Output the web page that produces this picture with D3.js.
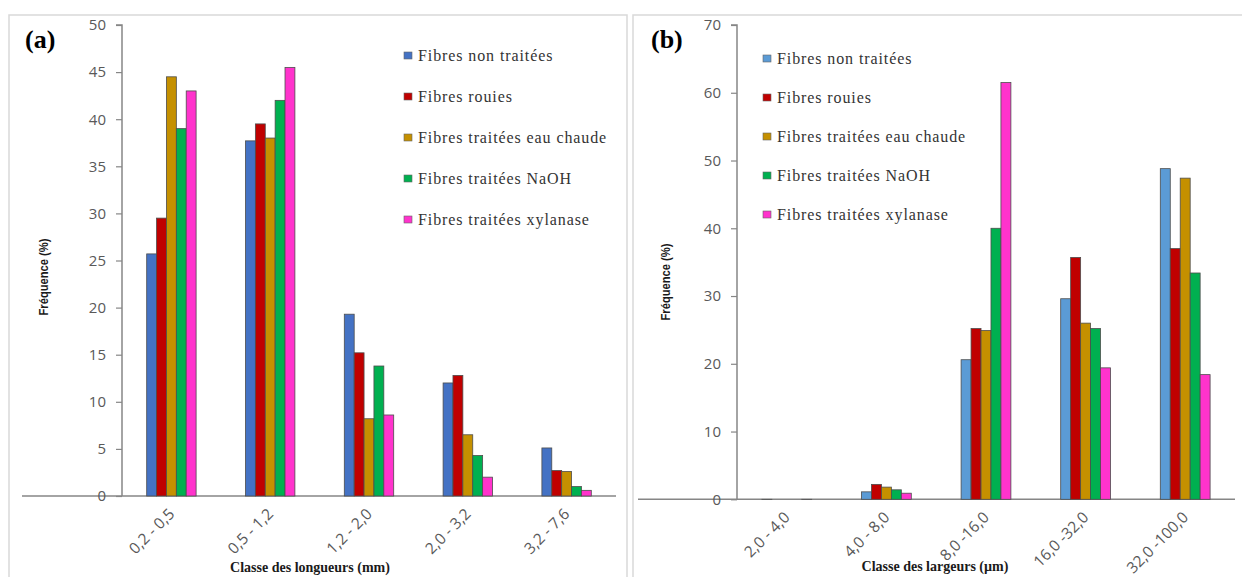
<!DOCTYPE html>
<html><head><meta charset="utf-8">
<script src="https://cdn.jsdelivr.net/npm/d3@7/dist/d3.min.js"></script>
<style>
html,body{margin:0;padding:0;background:#fff;}
svg{display:block;}
</style></head>
<body>
<svg id="chart" width="1242" height="577"></svg>
<script>
// ---------- DATA ----------
const seriesNames = ["Fibres non traitées","Fibres rouies","Fibres traitées eau chaude","Fibres traitées NaOH","Fibres traitées xylanase"];
const colorsA = ["#4472C4","#C00000","#C59000","#00B050","#FF33CC"];
const colorsB = ["#5B9BD5","#C00000","#C59000","#00B050","#FF33CC"];

const lengthClasses = ["0,2 - 0,5","0,5 - 1,2","1,2 - 2,0","2,0 - 3,2","3,2 - 7,6"];
const lenNonTraitees = [25.7, 37.7, 19.3, 12.0, 5.1];
const lenRouies      = [29.5, 39.5, 15.2, 12.8, 2.7];
const lenEauChaude   = [44.5, 38.0, 8.2, 6.5, 2.6];
const lenNaOH        = [39.0, 42.0, 13.8, 4.3, 1.0];
const lenXylanase    = [43.0, 45.5, 8.6, 2.0, 0.6];
const lenTicks = [0,5,10,15,20,25,30,35,40,45,50];

const widthClasses = ["2,0 - 4,0","4,0 - 8,0","8,0 -16,0","16,0 -32,0","32,0 -100,0"];
const widNonTraitees = [0, 1.1, 20.6, 29.6, 48.8];
const widRouies      = [null, 2.2, 25.2, 35.7, 37.0];
const widEauChaude   = [null, 1.8, 24.9, 26.0, 47.4];
const widNaOH        = [null, 1.4, 40.0, 25.2, 33.4];
const widXylanase    = [0, 0.9, 61.5, 19.4, 18.4];
const widTicks = [0,10,20,30,40,50,60,70];

const svg = d3.select("#chart");

// panel frames
svg.append("rect").attr("x",9).attr("y",15).attr("width",618).attr("height",600)
  .attr("fill","none").attr("stroke","#d9d9d9").attr("stroke-width",1.5);
svg.append("rect").attr("x",633).attr("y",15).attr("width",620).attr("height",600)
  .attr("fill","none").attr("stroke","#d9d9d9").attr("stroke-width",1.5);

function drawPanel(o){
  const g = svg.append("g");
  const x = d3.scaleBand().domain(o.categories).range([o.x0,o.x1]).paddingInner(0.5).paddingOuter(0.25);
  const y = d3.scaleLinear().domain([0,o.ymax]).range([o.y0,o.y1]);
  const xs = d3.scaleBand().domain(d3.range(seriesNames.length)).range([0,x.bandwidth()]);

  // x axis line
  g.append("line").attr("x1",o.xAxisStart).attr("x2",o.x1).attr("y1",y(0)).attr("y2",y(0))
    .attr("stroke","#868686").attr("stroke-width",1.5);

  // bars
  o.series.forEach((vals,si)=>{
    g.append("g").selectAll("rect").data(vals.map((v,i)=>({v,c:o.categories[i]})).filter(d=>d.v!==null))
      .join("rect")
      .attr("x",d=>x(d.c)+xs(si))
      .attr("y",d=>y(d.v))
      .attr("width",xs.bandwidth())
      .attr("height",d=>Math.max(0.01,y(0)-y(d.v)))
      .attr("fill",o.colors[si])
      .attr("stroke","#4d4d4d").attr("stroke-width",0.8);
  });

  // y axis
  const ya = g.append("g").attr("transform",`translate(${o.x0},0)`)
    .call(d3.axisLeft(y).tickValues(o.ticks).tickSize(6).tickPadding(10).tickFormat(d3.format("d")));
  ya.select(".domain").attr("stroke","#868686").attr("stroke-width",1.5).attr("d",`M-6,${o.y1}H0V${o.y0}`);
  ya.selectAll(".tick line").attr("stroke","#868686").attr("stroke-width",1.2);
  ya.selectAll(".tick text").attr("fill","#595959").style("font-family","'Open Sans',sans-serif").style("font-size","15px");

  // x tick labels
  g.append("g").selectAll("text").data(o.categories).join("text")
    .attr("transform",d=>`translate(${x(d)+x.bandwidth()/2+4},${y(0)+19}) rotate(-45)`)
    .attr("text-anchor","end")
    .attr("fill","#595959")
    .style("font-family","'Open Sans',sans-serif").style("font-size","15.5px")
    .text(d=>d);

  // axis titles
  g.append("text").attr("transform",`translate(${o.yTitleX},${o.yTitleY}) rotate(-90)`)
    .attr("text-anchor","middle").attr("fill","#1a1a1a")
    .attr("textLength",77).attr("lengthAdjust","spacingAndGlyphs")
    .style("font-family","'Liberation Sans',sans-serif").style("font-weight","bold").style("font-size","13px")
    .text("Fréquence (%)");
  g.append("text").attr("x",o.xTitleX).attr("y",o.xTitleY).attr("text-anchor","middle").attr("fill","#1a1a1a")
    .style("font-family","'Liberation Serif',serif").style("font-weight","bold").style("font-size","14px")
    .text(o.xTitle);

  // panel letter
  g.append("text").attr("x",o.letterX).attr("y",48).attr("fill","#000")
    .style("font-family","'Liberation Serif',serif").style("font-weight","bold").style("font-size","26px")
    .text(o.letter);

  // legend
  const lg = g.append("g");
  seriesNames.forEach((n,i)=>{
    const cy = o.legY0 + i*o.legDy;
    lg.append("rect").attr("x",o.legX).attr("y",cy-4).attr("width",8).attr("height",7)
      .attr("fill",o.colors[i]).attr("stroke","#666").attr("stroke-width",0.6);
    lg.append("text").attr("x",o.legX+14).attr("y",cy+5).attr("fill","#333")
      .style("font-family","'Liberation Serif',serif").style("font-size","16px").style("letter-spacing","0.9px")
      .text(n);
  });
}

drawPanel({
  categories: lengthClasses,
  series: [lenNonTraitees,lenRouies,lenEauChaude,lenNaOH,lenXylanase],
  colors: colorsA, ticks: lenTicks, ymax: 50,
  x0: 122, x1: 616, y0: 496, y1: 25, xAxisStart: 22,
  yTitleX: 48, yTitleY: 277, xTitle: "Classe des longueurs (mm)", xTitleX: 310, xTitleY: 572,
  letter: "(a)", letterX: 25, legX: 404, legY0: 56, legDy: 41
});
drawPanel({
  categories: widthClasses,
  series: [widNonTraitees,widRouies,widEauChaude,widNaOH,widXylanase],
  colors: colorsB, ticks: widTicks, ymax: 70,
  x0: 737, x1: 1235, y0: 499.3, y1: 25, xAxisStart: 638,
  yTitleX: 670, yTitleY: 282, xTitle: "Classe des largeurs (µm)", xTitleX: 935, xTitleY: 571,
  letter: "(b)", letterX: 651, legX: 763, legY0: 59, legDy: 39
});
</script>
</body></html>
